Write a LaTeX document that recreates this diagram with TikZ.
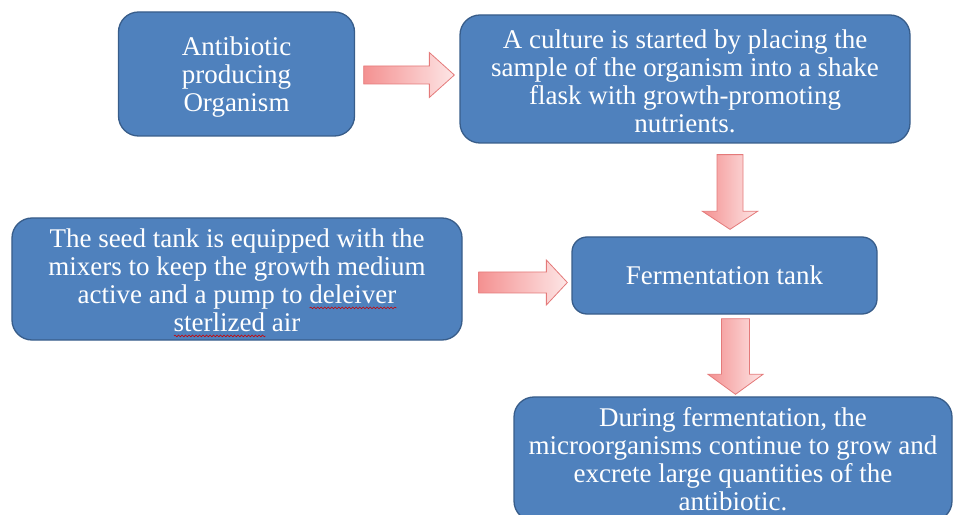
\documentclass[tikz,border=0pt]{standalone}
\usepackage{fontspec}
\setmainfont{Liberation Serif}
\usetikzlibrary{calc,decorations.pathmorphing}
\definecolor{boxfill}{RGB}{79,129,189}
\definecolor{boxline}{RGB}{56,93,138}
\definecolor{arrowdark}{RGB}{244,145,145}
\definecolor{arrowlight}{RGB}{253,230,230}
\definecolor{arrowline}{RGB}{228,122,122}
\newlength\wavelen
\newcommand\redwave[1]{\settowidth\wavelen{#1}\rlap{\tikz[baseline=0pt,x=1bp,y=1bp]\draw[red!80!black,sharp corners,line join=round,line width=0.6bp,decorate,decoration={snake,amplitude=0.9bp,segment length=3.5bp}] (0bp,-4.5bp) -- (\wavelen,-4.5bp);}#1}
\tikzset{
  stepbox/.style={draw=boxline,line width=1.3bp,fill=boxfill,rounded corners=20bp,
    text=white,align=center,inner sep=0pt,font=\fontsize{27bp}{28bp}\selectfont},
  blockarrow/.style={draw=arrowline,line width=0.8bp,left color=arrowdark,right color=arrowlight},
}
% tail, tip, half body, half head, head length
\newcommand\rightblock[5]{%
  \path[blockarrow] ($#1+(0,-#3)$) -- ($#2+(-#5,-#3)$) -- ($#2+(-#5,-#4)$) -- #2
    -- ($#2+(-#5,#4)$) -- ($#2+(-#5,#3)$) -- ($#1+(0,#3)$) -- cycle;}
\newcommand\downblock[5]{%
  \path[blockarrow] ($#1+(-#3,0)$) -- ($#2+(-#3,-#5)$) -- ($#2+(-#4,-#5)$) -- #2
    -- ($#2+(#4,-#5)$) -- ($#2+(#3,-#5)$) -- ($#1+(#3,0)$) -- cycle;}
\begin{document}
\begin{tikzpicture}[x=1bp,y=-1bp,line join=miter]
\useasboundingbox (0,0) rectangle (953,515);
\clip (0,0) rectangle (953,515);
%%
\node (node_0) at (236.5,74) [stepbox,minimum width=236bp,minimum height=124bp] {\rule{0pt}{25.5bp}Antibiotic\\producing\\Organism};
  \node (node_1) at (685,79) [stepbox,minimum width=450bp,minimum height=128bp] {\rule{0pt}{22.5bp}A culture is started by placing the\\sample of the organism into a shake\\flask with growth-promoting\\nutrients.};
  \node (node_2) at (237,279) [stepbox,minimum width=450bp,minimum height=122bp] {\rule{0pt}{26.5bp}The seed tank is equipped with the\\mixers to keep the growth medium\\active and a pump to \redwave{deleiver}\\\redwave{sterlized} air};
  \node (node_3) at (724.5,275.5) [stepbox,rounded corners=15bp,minimum width=305bp,minimum height=77bp] {Fermentation tank};
  \node (node_4) at (733,459) [stepbox,minimum width=438bp,minimum height=124bp] {During fermentation, the\\microorganisms continue to grow and\\excrete large quantities of the\\antibiotic.};
%
\coordinate (tail_0) at ($(node_0.east)+(8.5,1)$);
  \coordinate (tip_0) at ($(tail_0 -| node_1.west)+(-5,0)$);
  \coordinate (tail_1) at ($(node_2.east)+(16,3.5)$);
  \coordinate (tip_1) at ($(tail_1 -| node_3.west)+(-4,0)$);
  \coordinate (tail_2) at ($(node_1.south -| node_3.north)+(5.5,11)$);
  \coordinate (tip_2) at ($(tail_2 |- node_3.north)+(0,-7)$);
  \coordinate (tail_3) at ($(node_3.south)+(11,4)$);
  \coordinate (tip_3) at ($(tail_3 |- node_4.north)+(0,-2)$);
  \rightblock{(tail_0)}{(tip_0)}{9}{22.5}{25}
  \rightblock{(tail_1)}{(tip_1)}{10.5}{22.5}{21}
  \downblock{(tail_2)}{(tip_2)}{13}{27.5}{18}
  \downblock{(tail_3)}{(tip_3)}{14}{27.5}{20}
%
\end{tikzpicture}
\end{document}
